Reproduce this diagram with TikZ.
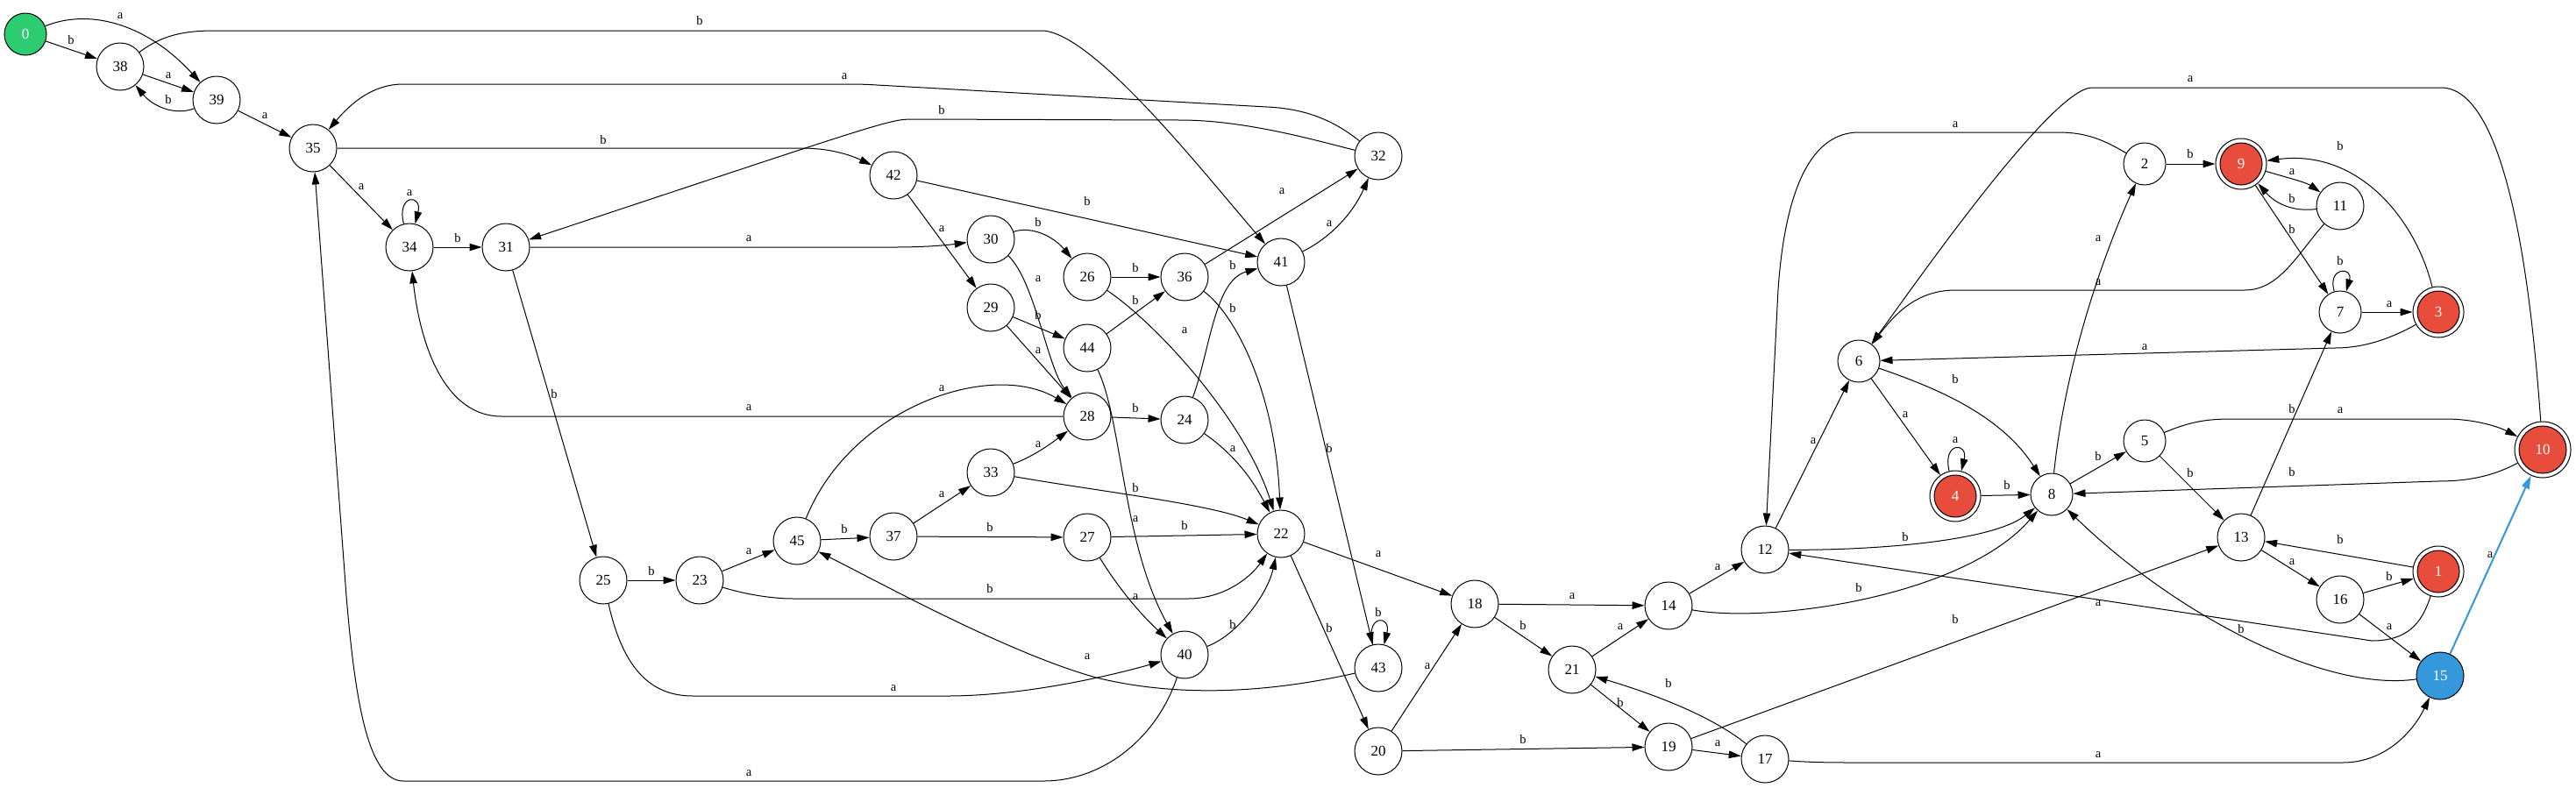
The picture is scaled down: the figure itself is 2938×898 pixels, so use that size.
\documentclass[tikz,border=0pt]{standalone}
\usepackage{fontspec}
\setmainfont{Liberation Serif}
\usetikzlibrary{arrows.meta}
\definecolor{gr}{HTML}{2ECC71}
\definecolor{rd}{HTML}{E74C3C}
\definecolor{bl}{HTML}{3498DB}
\begin{document}
\begin{tikzpicture}[x=1pt,y=-1pt,
 st/.style={circle,draw,line width=1pt,minimum size=54pt,inner sep=0pt,font=\fontsize{17}{17}\selectfont},
 sts/.style={st,minimum size=48pt},
 acc/.style={circle,draw,line width=1pt,minimum size=58pt,inner sep=0pt,text=white,font=\fontsize{17}{17}\selectfont,
   path picture={\draw[line width=1pt,fill=rd] (path picture bounding box.center) circle (24pt);}},
 accw/.style={acc,minimum size=64pt,
   path picture={\draw[line width=1pt,fill=rd] (path picture bounding box.center) circle (27pt);}},
 e/.style={-{Triangle[length=14pt,width=8.5pt]},line width=1pt},
 lab/.style={font=\fontsize{14.5}{14.5}\selectfont,inner sep=0pt}]
\fill[white] (0,0) rectangle (2938,898);
\path[use as bounding box] (0,0) rectangle (2938,898);
% nodes
\node[sts,fill=gr,text=white] (n0) at (29,39) {0};
\node[st] (n38) at (137,76) {38};
\node[st] (n39) at (247,114) {39};
\node[st] (n35) at (357,169) {35};
\node[st] (n34) at (467,282) {34};
\node[st] (n31) at (577,282) {31};
\node[st] (n25) at (688,662) {25};
\node[st] (n23) at (798,662) {23};
\node[st] (n45) at (909,617) {45};
\node[st] (n37) at (1019,612) {37};
\node[st] (n42) at (1019,200) {42};
\node[st] (n30) at (1130,273) {30};
\node[st] (n29) at (1130,351) {29};
\node[st] (n33) at (1130,539) {33};
\node[st] (n26) at (1240,316) {26};
\node[st] (n44) at (1240,397) {44};
\node[st] (n28) at (1240,475) {28};
\node[st] (n27) at (1240,613) {27};
\node[st] (n36) at (1351,316) {36};
\node[st] (n24) at (1351,479) {24};
\node[st] (n40) at (1351,747) {40};
\node[st] (n41) at (1461,299) {41};
\node[st] (n22) at (1461,609) {22};
\node[st] (n32) at (1572,178) {32};
\node[st] (n43) at (1572,762) {43};
\node[st] (n20) at (1572,857) {20};
\node[st] (n18) at (1682,689) {18};
\node[st] (n21) at (1793,764) {21};
\node[st] (n14) at (1903,691) {14};
\node[st] (n19) at (1903,852) {19};
\node[st] (n12) at (2013,627) {12};
\node[st] (n17) at (2013,866) {17};
\node[sts] (n6) at (2120,412) {6};
\node[acc] (n4) at (2230,566) {4};
\node[sts] (n8) at (2340,564) {8};
\node[sts] (n2) at (2446,187) {2};
\node[sts] (n5) at (2446,503) {5};
\node[acc] (n9) at (2556,187) {9};
\node[st] (n13) at (2556,613) {13};
\node[st] (n11) at (2669,235) {11};
\node[sts] (n7) at (2669,356) {7};
\node[st] (n16) at (2669,684) {16};
\node[acc] (n3) at (2781,356) {3};
\node[acc] (n1) at (2781,652) {1};
\node[st,fill=bl,text=white] (n15) at (2783,771) {15};
\node[accw] (n10) at (2900,513) {10};
% edges
\draw[e] (n0) -- (n38) node[lab,at={(81,46)}]{b};
\draw[e] (n0) .. controls (100,10) and (165,25) .. (n39) node[lab,at={(137,18)}]{a};
\draw[e] (n38) -- (n39) node[lab,at={(192,86)}]{a};
\draw[e] (n39) .. controls (200,132) and (175,122) .. (n38) node[lab,at={(192,114)}]{b};
\draw[e] (n39) -- (n35) node[lab,at={(302,132)}]{a};
\draw[e] (n38) .. controls (185,40) and (210,35) .. (245,35) -- (1190,35) .. controls (1250,40) and (1375,200) .. (n41) node[lab,at={(798,24)}]{b};
\draw[e] (n35) -- (n34) node[lab,at={(412,213)}]{a};
\draw[e] (n34) .. controls (452,221) and (482,221) .. (n34) node[lab,at={(467,220)}]{a};
\draw[e] (n34) -- (n31) node[lab,at={(522,272)}]{b};
\draw[e] (n35) -- (914,169) .. controls (945,169) and (968,176) .. (n42) node[lab,at={(688,160)}]{b};
\draw[e] (n31) -- (1020,282) .. controls (1060,282) and (1085,279) .. (n30) node[lab,at={(854,272)}]{a};
\draw[e] (n31) -- (n25) node[lab,at={(632,450)}]{b};
\draw[e] (n32) .. controls (1522,138) and (1490,124) .. (1445,122) -- (1000,97) .. controls (985,96) and (975,96) .. (960,96) -- (460,96) .. controls (425,96) and (400,118) .. (n35) node[lab,at={(963,87)}]{a};
\draw[e] (n32) .. controls (1500,160) and (1420,137) .. (1346,137) -- (1040,136) .. controls (1015,136) and (1005,140) .. (n31) node[lab,at={(1074,126)}]{b};
\draw[e] (n42) -- (n41) node[lab,at={(1240,230)}]{b};
\draw[e] (n42) -- (n29) node[lab,at={(1074,261)}]{a};
\draw[e] (n30) .. controls (1175,258) and (1200,268) .. (n26) node[lab,at={(1184,254)}]{b};
\draw[e] (n30) .. controls (1180,320) and (1195,420) .. (n28) node[lab,at={(1184,318)}]{a};
\draw[e] (n29) -- (n44) node[lab,at={(1184,360)}]{b};
\draw[e] (n29) -- (n28) node[lab,at={(1184,400)}]{a};
\draw[e] (n26) -- (n36) node[lab,at={(1295,306)}]{b};
\draw[e] (n26) .. controls (1320,370) and (1420,480) .. (n22) node[lab,at={(1351,377)}]{a};
\draw[e] (n44) -- (n36) node[lab,at={(1295,343)}]{b};
\draw[e] (n44) .. controls (1280,480) and (1280,620) .. (n40) node[lab,at={(1295,592)}]{a};
\draw[e] (n36) -- (n32) node[lab,at={(1462,218)}]{a};
\draw[e] (n36) .. controls (1410,360) and (1455,450) .. (n22) node[lab,at={(1406,352)}]{b};
\draw[e] (n41) .. controls (1510,275) and (1540,250) .. (n32) node[lab,at={(1516,255)}]{a};
\draw[e] (n41) -- (n43) node[lab,at={(1516,512)}]{b};
\draw[e] (n24) .. controls (1380,400) and (1385,320) .. (n41) node[lab,at={(1406,303)}]{b};
\draw[e] (n28) -- (572,475) .. controls (510,475) and (480,400) .. (n34) node[lab,at={(854,465)}]{a};
\draw[e] (n28) -- (n24) node[lab,at={(1295,466)}]{b};
\draw[e] (n45) .. controls (970,465) and (1130,410) .. (n28) node[lab,at={(1074,443)}]{a};
\draw[e] (n33) .. controls (1180,520) and (1200,505) .. (n28) node[lab,at={(1184,507)}]{a};
\draw[e] (n33) .. controls (1250,560) and (1380,575) .. (n22) node[lab,at={(1295,557)}]{b};
\draw[e] (n24) .. controls (1410,520) and (1430,550) .. (n22) node[lab,at={(1406,512)}]{a};
\draw[e] (n37) -- (n33) node[lab,at={(1074,564)}]{a};
\draw[e] (n45) -- (n37) node[lab,at={(963,604)}]{b};
\draw[e] (n37) -- (n27) node[lab,at={(1129,602)}]{b};
\draw[e] (n27) -- (n22) node[lab,at={(1351,600)}]{b};
\draw[e] (n27) .. controls (1275,670) and (1300,700) .. (n40) node[lab,at={(1295,681)}]{a};
\draw[e] (n23) -- (n45) node[lab,at={(854,629)}]{a};
\draw[e] (n25) -- (n23) node[lab,at={(743,652)}]{b};
\draw[e] (n23) .. controls (850,678) and (880,683) .. (905,683) -- (1355,683) .. controls (1395,683) and (1425,660) .. (n22) node[lab,at={(1129,672)}]{b};
\draw[e] (n25) .. controls (710,760) and (740,794) .. (790,794) -- (1080,794) .. controls (1170,794) and (1270,770) .. (n40) node[lab,at={(1019,785)}]{a};
\draw[e] (n40) .. controls (1410,725) and (1445,680) .. (n22) node[lab,at={(1406,713)}]{b};
\draw[e] (n43) .. controls (1470,785) and (1360,800) .. (1250,773) .. controls (1150,745) and (1010,668) .. (n45) node[lab,at={(1240,749)}]{a};
\draw[e] (n40) .. controls (1320,840) and (1260,891) .. (1190,891) -- (460,891) .. controls (420,891) and (405,800) .. (395,680) -- (n35) node[lab,at={(854,882)}]{a};
\draw[e] (n22) -- (n18) node[lab,at={(1572,632)}]{a};
\draw[e] (n22) -- (n20) node[lab,at={(1516,717)}]{b};
\draw[e] (n43) .. controls (1557,701) and (1587,701) .. (n43) node[lab,at={(1572,699)}]{b};
\draw[e] (n20) -- (n18) node[lab,at={(1628,760)}]{a};
\draw[e] (n20) -- (n19) node[lab,at={(1737,844)}]{b};
\draw[e] (n18) -- (n14) node[lab,at={(1793,680)}]{a};
\draw[e] (n18) -- (n21) node[lab,at={(1737,714)}]{b};
\draw[e] (n21) -- (n14) node[lab,at={(1848,715)}]{a};
\draw[e] (n21) -- (n19) node[lab,at={(1848,802)}]{b};
\draw[e] (n19) -- (n17) node[lab,at={(1959,848)}]{a};
\draw[e] (n17) .. controls (1950,815) and (1880,790) .. (n21) node[lab,at={(1903,780)}]{b};
\draw[e] (n19) -- (n13) node[lab,at={(2230,707)}]{b};
\draw[e] (n14) -- (n12) node[lab,at={(1959,647)}]{a};
\draw[e] (n14) .. controls (2020,712) and (2240,680) .. (n8) node[lab,at={(2120,671)}]{b};
\draw[e] (n12) .. controls (2120,628) and (2270,620) .. (n8) node[lab,at={(2173,613)}]{b};
\draw[e] (n12) -- (n6) node[lab,at={(2068,503)}]{a};
\draw[e] (n6) -- (n4) node[lab,at={(2173,473)}]{a};
\draw[e] (n6) .. controls (2200,440) and (2280,470) .. (n8) node[lab,at={(2230,433)}]{b};
\draw[e] (n4) .. controls (2215,504) and (2245,504) .. (n4) node[lab,at={(2230,502)}]{a};
\draw[e] (n4) -- (n8) node[lab,at={(2289,554)}]{b};
\draw[e] (n8) -- (n5) node[lab,at={(2393,521)}]{b};
\draw[e] (n8) .. controls (2355,420) and (2395,300) .. (n2) node[lab,at={(2393,272)}]{a};
\draw[e] (n2) -- (n9) node[lab,at={(2498,176)}]{b};
\draw[e] (n2) .. controls (2400,160) and (2380,151) .. (2348,151) -- (2120,151) .. controls (2060,151) and (2035,230) .. (2028,330) -- (n12) node[lab,at={(2230,142)}]{a};
\draw[e] (n9) .. controls (2610,203) and (2630,208) .. (n11) node[lab,at={(2614,196)}]{a};
\draw[e] (n11) .. controls (2615,242) and (2595,232) .. (n9) node[lab,at={(2614,227)}]{b};
\draw[e] (n9) -- (n7) node[lab,at={(2614,262)}]{b};
\draw[e] (n7) .. controls (2654,304) and (2684,304) .. (n7) node[lab,at={(2669,298)}]{b};
\draw[e] (n7) -- (n3) node[lab,at={(2725,347)}]{a};
\draw[e] (n3) .. controls (2755,250) and (2690,170) .. (n9) node[lab,at={(2669,167)}]{b};
\draw[e] (n11) .. controls (2620,290) and (2600,331) .. (2560,331) -- (2230,331) .. controls (2185,331) and (2160,360) .. (n6) node[lab,at={(2393,322)}]{a};
\draw[e] (n10) .. controls (2885,300) and (2855,100) .. (2784,100) -- (2386,100) .. controls (2340,100) and (2180,330) .. (n6) node[lab,at={(2498,90)}]{a};
\draw[e] (n3) .. controls (2720,390) and (2690,397) .. (2663,397) -- (n6) node[lab,at={(2446,396)}]{a};
\draw[e] (n5) .. controls (2500,480) and (2520,478) .. (2546,478) -- (2790,478) .. controls (2820,478) and (2848,486) .. (n10) node[lab,at={(2669,468)}]{a};
\draw[e] (n5) -- (n13) node[lab,at={(2498,540)}]{b};
\draw[e] (n10) .. controls (2840,545) and (2810,549) .. (2780,549) -- (n8) node[lab,at={(2614,539)}]{b};
\draw[e] (n13) -- (n7) node[lab,at={(2614,467)}]{b};
\draw[e] (n13) -- (n16) node[lab,at={(2614,641)}]{a};
\draw[e] (n16) -- (n1) node[lab,at={(2725,658)}]{b};
\draw[e] (n1) -- (n13) node[lab,at={(2669,616)}]{b};
\draw[e] (n1) .. controls (2762,712) and (2745,731) .. (2705,731) -- (n12) node[lab,at={(2393,688)}]{a};
\draw[e] (n16) -- (n15) node[lab,at={(2725,715)}]{a};
\draw[e,draw=bl,fill=bl,line width=2pt,-{Triangle[length=15pt,width=9pt]}] (n15) -- (n10) node[lab,at={(2840,633)},text=black]{a};
\draw[e] (n15) .. controls (2650,790) and (2480,700) .. (n8) node[lab,at={(2556,718)}]{b};
\draw[e] (n17) .. controls (2070,870) and (2090,870) .. (2120,870) -- (2672,870) .. controls (2720,870) and (2752,835) .. (n15) node[lab,at={(2393,861)}]{a};
\end{tikzpicture}
\end{document}
